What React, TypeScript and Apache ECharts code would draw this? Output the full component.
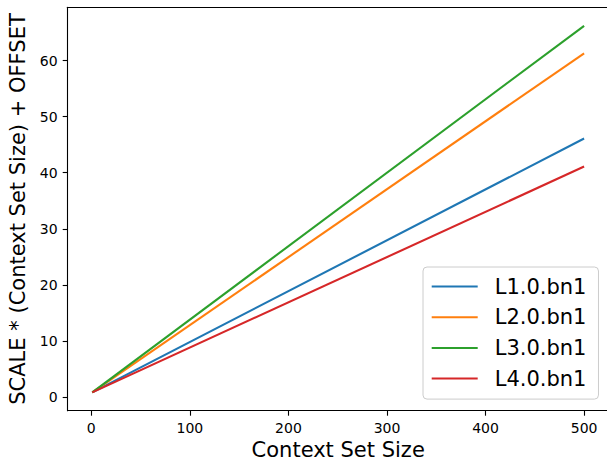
import React, { useEffect, useRef } from "react";
import * as echarts from "echarts";

const xValues = [1, 500];
const seriesNames = ["L1.0.bn1", "L2.0.bn1", "L3.0.bn1", "L4.0.bn1"];
const l1 = [0.84, 46.1];
const l2 = [0.84, 61.3];
const l3 = [0.84, 66.2];
const l4 = [0.84, 41.1];
const seriesValues = [l1, l2, l3, l4];
const colors = ["#1f77b4", "#ff7f0e", "#2ca02c", "#d62728"];
const xTicks = [0, 100, 200, 300, 400, 500];
const yTicks = [0, 10, 20, 30, 40, 50, 60];

const FONT = "DejaVu Sans";

export default function App() {
  const ref = useRef<HTMLDivElement>(null);
  useEffect(() => {
    if (!ref.current) return;
    const chart = echarts.init(ref.current, undefined, { renderer: "svg" });
    const spine = { color: "#000000", width: 1.1 };
    const option: any = {
      animation: false,
      backgroundColor: "#ffffff",
      textStyle: { fontFamily: FONT },
      grid: {
        left: 67.7,
        top: 7.3,
        width: 541,
        bottom: 49.3,
        outerBoundsMode: "none",
        containLabel: false,
        show: false,
      },
      legend: {
        orient: "vertical",
        left: 423,
        top: 267,
        backgroundColor: "rgba(255,255,255,0.8)",
        borderColor: "#cccccc",
        borderWidth: 1,
        borderRadius: 4,
        padding: [9, 12, 10, 8.7],
        itemGap: 9.7,
        icon: "rect",
        itemWidth: 46,
        itemHeight: 2,
        textStyle: {
          fontFamily: FONT,
          fontSize: 21,
          color: "#000000",
          padding: [0, 0, 0, 12],
        },
        data: seriesNames,
      },
      xAxis: [
        {
          type: "value",
          min: -23.95,
          max: 524.95,
          name: "Context Set Size",
          nameLocation: "middle",
          nameGap: 23,
          nameTextStyle: { fontFamily: FONT, fontSize: 21, color: "#000000" },
          axisLine: { show: true, onZero: false, lineStyle: spine },
          axisTick: {
            show: true,
            length: 5,
            lineStyle: spine,
            customValues: xTicks,
          },
          axisLabel: {
            fontFamily: FONT,
            fontSize: 14,
            color: "#000000",
            margin: 10,
            customValues: xTicks,
          },
          splitLine: { show: false },
        },
        {
          type: "value",
          position: "top",
          min: -23.95,
          max: 524.95,
          axisLine: { show: true, onZero: false, lineStyle: spine },
          axisTick: { show: false },
          axisLabel: { show: false },
          splitLine: { show: false },
        },
      ],
      yAxis: {
        type: "value",
        min: -2.43,
        max: 69.5,
        name: "SCALE * (Context Set Size) + OFFSET",
        nameLocation: "middle",
        nameGap: 30,
        nameTextStyle: { fontFamily: FONT, fontSize: 21, color: "#000000" },
        axisLine: { show: true, onZero: false, lineStyle: spine },
        axisTick: {
          show: true,
          length: 5,
          lineStyle: spine,
          customValues: yTicks,
        },
        axisLabel: {
          fontFamily: FONT,
          fontSize: 14,
          color: "#000000",
          margin: 10,
          customValues: yTicks,
        },
        splitLine: { show: false },
      },
      series: seriesNames.map((name, i) => ({
        name,
        type: "line",
        symbol: "none",
        xAxisIndex: 0,
        color: colors[i],
        lineStyle: { color: colors[i], width: 2.1 },
        data: xValues.map((x, j) => [x, seriesValues[i][j]]),
      })),
    };
    chart.setOption(option);
    return () => chart.dispose();
  }, []);
  return (
    <div
      ref={ref}
      style={{ position: "fixed", left: 0, top: 0, width: 607, height: 460 }}
    />
  );
}
